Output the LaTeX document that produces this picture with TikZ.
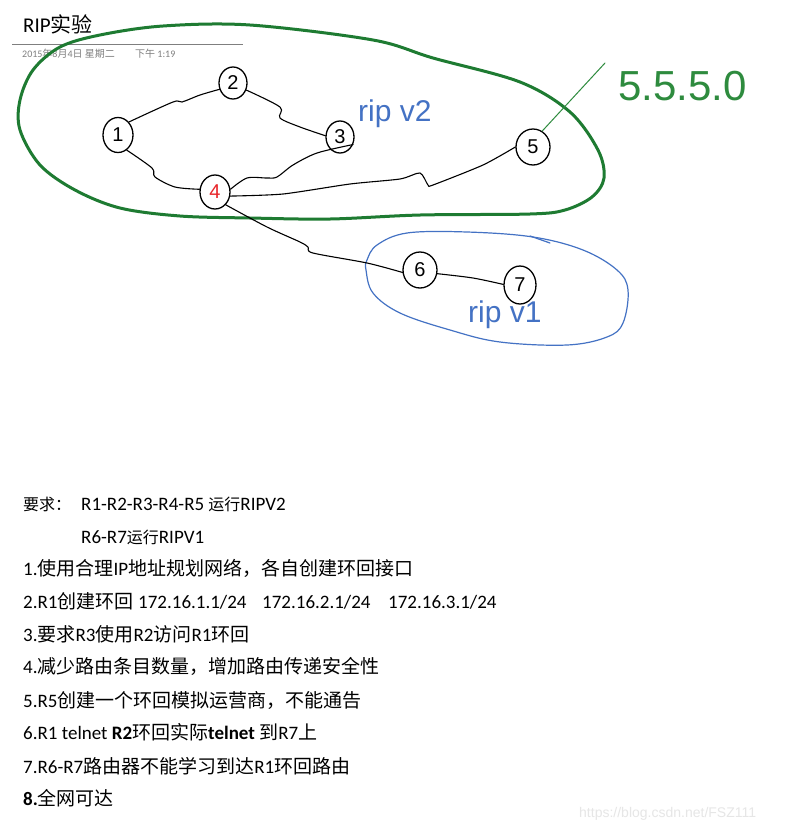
\documentclass[tikz,border=0pt]{standalone}
\usepackage{fontspec}
\setmainfont{Carlito}
\newfontfamily\cjk{Noto Sans CJK SC}
\newfontfamily\hand{Liberation Sans}
\usetikzlibrary{shapes.geometric}
\definecolor{loopgreen}{HTML}{1E7B32}
\definecolor{pengreen}{HTML}{2E8B3E}
\definecolor{penblue}{HTML}{4472C4}
\definecolor{penred}{HTML}{E8262A}
\definecolor{headgray}{HTML}{7F7F7F}
\definecolor{wmgray}{HTML}{E6E6E6}
\newcommand{\C}[1]{{\cjk #1}}
\newcommand{\Cs}[1]{{\cjk\fontsize{16}{16}\selectfont #1}}
\begin{document}
\begin{tikzpicture}[x=1pt,y=-1pt,
  router/.style={draw, ellipse, line width=1.3pt, inner sep=0pt, minimum width=30pt, minimum height=34pt, font=\hand\fontsize{20}{20}\selectfont},
  link/.style={line width=1.1pt, line join=round, line cap=round},
  txt/.style={anchor=base west, inner sep=0pt, font=\fontsize{19}{19}\selectfont},
  small/.style={anchor=base west, inner sep=0pt, text=headgray, font=\fontsize{10}{10}\selectfont},
  pen/.style={inner sep=0pt, font=\hand\fontsize{30}{30}\selectfont},
]
\useasboundingbox (0,0) rectangle (788,831);
\fill[white] (0,0) rectangle (788,831);

% header
\node[anchor=base west, inner sep=0pt, font=\fontsize{21}{21}\selectfont] (title) at (23,32) {RIP\C{实验}};
\draw[headgray, line width=0.8pt] (12,44) -- (243,44);
\node[small] (date) at (22,57) {2015\C{年}8\C{月}4\C{日} \C{星期二}};
\node[small] (time) at (135,57) {\C{下午} 1:19};

% green area
\draw[loopgreen, line width=3pt, line cap=round, line join=round]
  plot[smooth cycle, tension=0.55] coordinates {(163,26) (250,25) (373,40) (433,58) (520,82) (570,112) (598,150) (604,178) (592,197) (565,210) (530,214) (420,215) (330,219) (250,218) (180,216) (120,208) (75,190) (40,165) (20,130) (20,100) (33,70) (60,47) (100,35)};

% blue area
\draw[penblue, line width=1.2pt, line join=round]
  plot[smooth cycle, tension=0.6] coordinates {(367,260) (377,245) (407,233) (467,232) (533,237) (583,250) (617,270) (628,290) (623,323) (607,337) (567,345) (500,342) (450,330) (400,313) (373,293) (366,270)};
\draw[penblue, line width=1.2pt, line cap=round] (530,236) -- (550,243);

% routers
\node[router, minimum width=30pt, minimum height=35pt] (r1) at (118,135) {1};
\node[router, minimum width=28pt, minimum height=32pt] (r2) at (233,83) {2};
\node[router, minimum width=28pt, minimum height=32pt] (r3) at (340,137) {3};
\node[router, minimum width=30pt, minimum height=34pt, text=penred] (r4) at (215,192) {4};
\node[router, minimum width=34pt, minimum height=36pt] (r5) at (533,147) {5};
\node[router, minimum width=34pt, minimum height=36pt] (r6) at (420,270) {6};
\node[router, minimum width=32pt, minimum height=38pt] (r7) at (520,285) {7};

% links
\draw[link] plot[smooth, tension=0.5] coordinates {(r1.50) (173,102) (182,102) (200,95) (r2.205)};
\draw[link] plot[smooth, tension=0.5] coordinates {(r2.-28) (280,107) (280,118) (300,127) (r3.175)};
\draw[link] plot[smooth, tension=0.5] coordinates {(r1.-60) (152,168) (155,177) (175,187) (r4.170)};
\draw[link] plot[smooth, tension=0.5] coordinates {(r4.10) (247,178) (267,178) (277,177) (293,165) (317,153) (r3.-30)};
\draw[link] plot[smooth, tension=0.4] coordinates {(r4.-15) (283,194) (350,184) (400,179) (420,173) (428,185) (433,185) (483,165) (r5.180)};
\draw[link] plot[smooth, tension=0.5] coordinates {(r4.-50) (267,227) (300,242) (308,247) (313,253) (367,263) (r6.188)};
\draw[link] plot[smooth, tension=0.5] coordinates {(r6.-12) (473,278) (r7.178)};

% network 5.5.5.0
\coordinate (netend) at (605,63);
\draw[pengreen, line width=1pt, line cap=round] (r5.60) -- (netend);
\node[pen, text=pengreen, font=\hand\fontsize{42}{42}\selectfont, anchor=west] (net) at (618,86) {5.5.5.0};

% protocol labels
\node[pen, text=penblue, anchor=base west] (v2) at (358,121) {rip v2};
\node[pen, text=penblue, anchor=base west] (v1) at (468,322) {rip v1};

% requirements
\node[txt] (q0) at (23,510) {\Cs{要求：}};
\node[txt] (q0b) at (81,510) {R1-R2-R3-R4-R5 \Cs{运行}RIPV2};
\node[txt] (q0c) at (81,543) {R6-R7\Cs{运行}RIPV1};
\node[txt] (q1) at (23,575) {1.\C{使用合理}IP\C{地址规划网络，各自创建环回接口}};
\node[txt] (q2) at (23,608) {2.R1\C{创建环回}};
\node[txt] (q2a) at (138,608) {172.16.1.1/24};
\node[txt] (q2b) at (262,608) {172.16.2.1/24};
\node[txt] (q2c) at (388,608) {172.16.3.1/24};
\node[txt] (q3) at (23,641) {3.\C{要求}R3\C{使用}R2\C{访问}R1\C{环回}};
\node[txt] (q4) at (23,673) {4.\C{减少路由条目数量，增加路由传递安全性}};
\node[txt] (q5) at (23,707) {5.R5\C{创建一个环回模拟运营商，不能通告}};
\node[txt] (q6) at (23,739) {6.R1 telnet \textbf{R2}\C{环回实际}\textbf{telnet} \C{到}R7\C{上}};
\node[txt] (q7) at (23,773) {7.R6-R7\C{路由器不能学习到达}R1\C{环回路由}};
\node[txt] (q8) at (23,805) {\textbf{8.}\C{全网可达}};

% watermark
\node[anchor=base west, inner sep=0pt, text=wmgray, font=\hand\fontsize{14}{14}\selectfont] (wm) at (579,817) {https://blog.csdn.net/FSZ111};
\end{tikzpicture}
\end{document}
